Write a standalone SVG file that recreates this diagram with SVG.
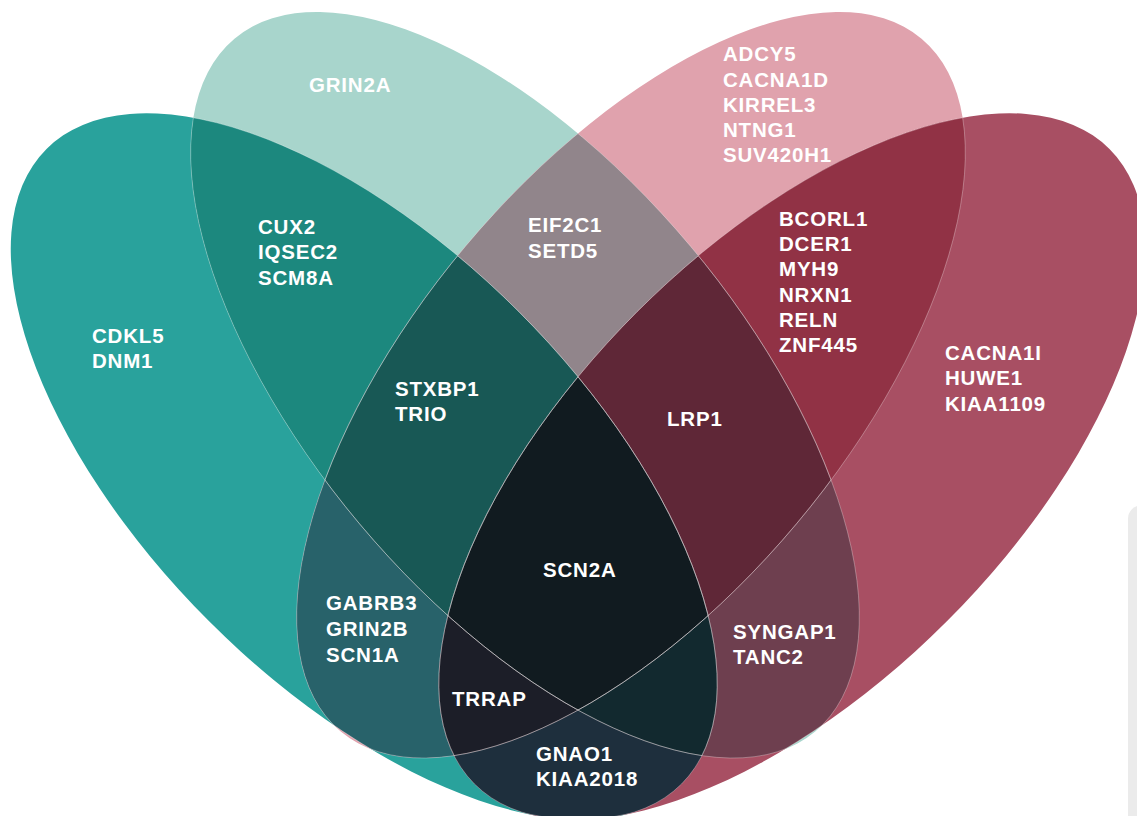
<svg xmlns="http://www.w3.org/2000/svg" xmlns:xlink="http://www.w3.org/1999/xlink" width="1137" height="816" viewBox="0 0 1137 816">
<style>
.lbl{font-family:"Liberation Sans",Arial,sans-serif;font-weight:700;font-size:20.5px;letter-spacing:0.8px;fill:#ffffff}
.edge{fill:none;stroke:#ffffff;stroke-opacity:0.35;stroke-width:0.8}
</style>
<defs>
<ellipse id="eA" cx="364" cy="466.5" rx="449" ry="219" transform="rotate(45 364 466.5)"/>
<ellipse id="eB" cx="525" cy="385" rx="452" ry="216" transform="rotate(50 525 385)"/>
<ellipse id="eC" cx="631" cy="385" rx="452" ry="216" transform="rotate(-50 631 385)"/>
<ellipse id="eD" cx="792" cy="466.5" rx="449" ry="219" transform="rotate(-45 792 466.5)"/>
<clipPath id="cA"><ellipse cx="364" cy="466.5" rx="449" ry="219" transform="rotate(45 364 466.5)"/></clipPath>
<clipPath id="cB"><ellipse cx="525" cy="385" rx="452" ry="216" transform="rotate(50 525 385)"/></clipPath>
<clipPath id="cC"><ellipse cx="631" cy="385" rx="452" ry="216" transform="rotate(-50 631 385)"/></clipPath>
<clipPath id="cD"><ellipse cx="792" cy="466.5" rx="449" ry="219" transform="rotate(-45 792 466.5)"/></clipPath>
</defs>
<rect width="1137" height="816" fill="#ffffff"/>
<rect x="1128" y="505" width="40" height="400" rx="14" fill="#ebebeb"/>
<g id="sets">
<use xlink:href="#eA" fill="#29a29c"/>
<use xlink:href="#eB" fill="#a8d5cc"/>
<use xlink:href="#eC" fill="#e0a2ad"/>
<use xlink:href="#eD" fill="#a84f63"/>
</g>
<g id="pairs">
<g clip-path="url(#cA)"><use xlink:href="#eB" fill="#1c887e"/></g>
<g clip-path="url(#cA)"><use xlink:href="#eC" fill="#28626a"/></g>
<g clip-path="url(#cA)"><use xlink:href="#eD" fill="#1e2f3d"/></g>
<g clip-path="url(#cB)"><use xlink:href="#eC" fill="#91858b"/></g>
<g clip-path="url(#cB)"><use xlink:href="#eD" fill="#6e3f4f"/></g>
<g clip-path="url(#cC)"><use xlink:href="#eD" fill="#913245"/></g>
</g>
<g id="triples">
<g clip-path="url(#cA)"><g clip-path="url(#cB)"><use xlink:href="#eC" fill="#185855"/></g></g>
<g clip-path="url(#cA)"><g clip-path="url(#cB)"><use xlink:href="#eD" fill="#12292f"/></g></g>
<g clip-path="url(#cA)"><g clip-path="url(#cC)"><use xlink:href="#eD" fill="#1c1e28"/></g></g>
<g clip-path="url(#cB)"><g clip-path="url(#cC)"><use xlink:href="#eD" fill="#5f2737"/></g></g>
</g>
<g id="quad">
<g clip-path="url(#cA)"><g clip-path="url(#cB)"><g clip-path="url(#cC)"><use xlink:href="#eD" fill="#111b20"/></g></g></g>
</g>
<g id="outlines">
<g clip-path="url(#cB)"><use xlink:href="#eA" class="edge"/></g>
<g clip-path="url(#cC)"><use xlink:href="#eA" class="edge"/></g>
<g clip-path="url(#cD)"><use xlink:href="#eA" class="edge"/></g>
<g clip-path="url(#cA)"><use xlink:href="#eB" class="edge"/></g>
<g clip-path="url(#cC)"><use xlink:href="#eB" class="edge"/></g>
<g clip-path="url(#cD)"><use xlink:href="#eB" class="edge"/></g>
<g clip-path="url(#cA)"><use xlink:href="#eC" class="edge"/></g>
<g clip-path="url(#cB)"><use xlink:href="#eC" class="edge"/></g>
<g clip-path="url(#cD)"><use xlink:href="#eC" class="edge"/></g>
<g clip-path="url(#cA)"><use xlink:href="#eD" class="edge"/></g>
<g clip-path="url(#cB)"><use xlink:href="#eD" class="edge"/></g>
<g clip-path="url(#cC)"><use xlink:href="#eD" class="edge"/></g>
</g>
<g id="labels">
<g id="A-only"><text class="lbl" x="92" y="343">CDKL5</text><text class="lbl" x="92" y="368">DNM1</text></g>
<g id="B-only"><text class="lbl" x="309" y="92">GRIN2A</text></g>
<g id="C-only"><text class="lbl" x="723" y="61">ADCY5</text><text class="lbl" x="723" y="87">CACNA1D</text><text class="lbl" x="723" y="112">KIRREL3</text><text class="lbl" x="723" y="137">NTNG1</text><text class="lbl" x="723" y="162">SUV420H1</text></g>
<g id="D-only"><text class="lbl" x="945" y="360">CACNA1I</text><text class="lbl" x="945" y="385">HUWE1</text><text class="lbl" x="945" y="411">KIAA1109</text></g>
<g id="AB"><text class="lbl" x="258" y="234">CUX2</text><text class="lbl" x="258" y="259">IQSEC2</text><text class="lbl" x="258" y="285">SCM8A</text></g>
<g id="BC"><text class="lbl" x="528" y="232">EIF2C1</text><text class="lbl" x="528" y="258">SETD5</text></g>
<g id="CD"><text class="lbl" x="779" y="226">BCORL1</text><text class="lbl" x="779" y="251">DCER1</text><text class="lbl" x="779" y="276">MYH9</text><text class="lbl" x="779" y="302">NRXN1</text><text class="lbl" x="779" y="327">RELN</text><text class="lbl" x="779" y="352">ZNF445</text></g>
<g id="ABC"><text class="lbl" x="395" y="396">STXBP1</text><text class="lbl" x="395" y="421">TRIO</text></g>
<g id="BCD"><text class="lbl" x="667" y="426">LRP1</text></g>
<g id="ABCD"><text class="lbl" x="543" y="577">SCN2A</text></g>
<g id="AC"><text class="lbl" x="326" y="610">GABRB3</text><text class="lbl" x="326" y="636">GRIN2B</text><text class="lbl" x="326" y="662">SCN1A</text></g>
<g id="ACD"><text class="lbl" x="452" y="706">TRRAP</text></g>
<g id="AD"><text class="lbl" x="536" y="761">GNAO1</text><text class="lbl" x="536" y="786">KIAA2018</text></g>
<g id="BD"><text class="lbl" x="733" y="639">SYNGAP1</text><text class="lbl" x="733" y="664">TANC2</text></g>
</g>
</svg>
